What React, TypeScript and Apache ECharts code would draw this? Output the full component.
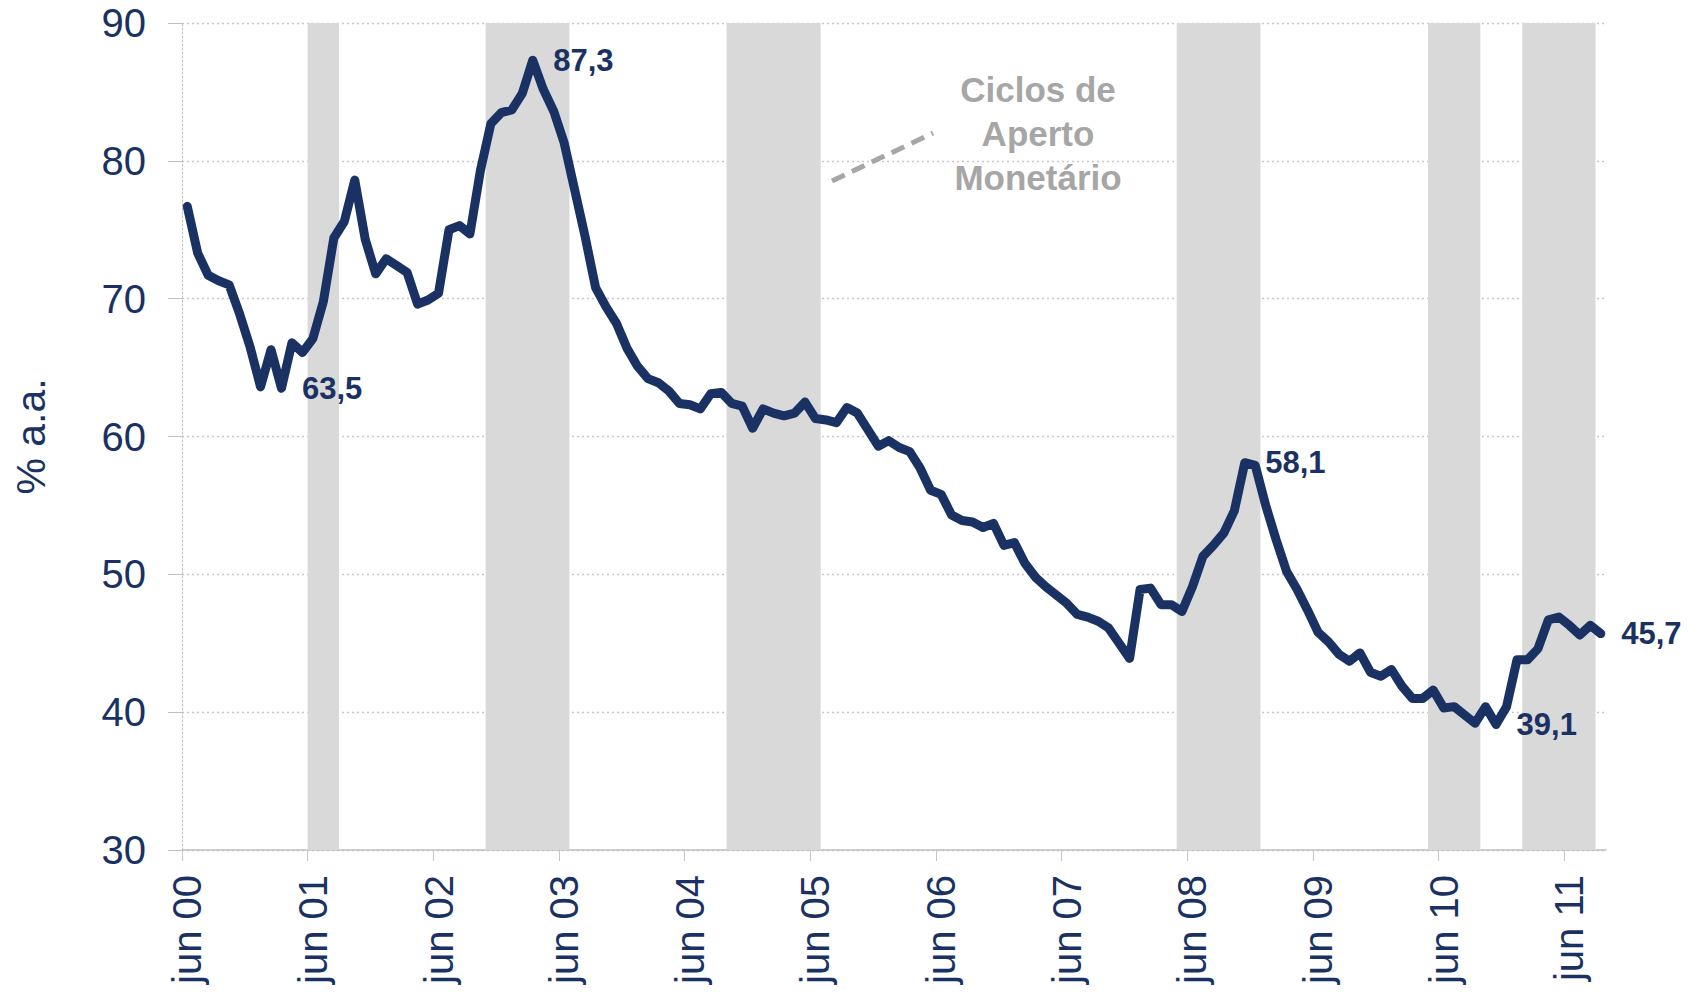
import React, { useEffect, useRef } from "react";
import * as echarts from "echarts";

const NAVY = "#1a3263";
const BAND = "#d9d9d9";
const NOTE_GRAY = "#a6a6a6";
const FONT = "'Liberation Sans', Arial, sans-serif";

// Portuguese month abbreviations, series starts in jun 2000
const MONTH_NAMES = ["jan", "fev", "mar", "abr", "mai", "jun", "jul", "ago", "set", "out", "nov", "dez"];
const START_MONTH = 5;
const START_YEAR = 2000;

// Monthly values (% a.a.), jun 00 .. set 11
const values: number[] = [
  76.7, 73.3, 71.7, 71.3, 71.0, 68.9, 66.5, 63.6, 66.3, 63.5, 66.8, 66.1,
  67.1, 69.8, 74.4, 75.6, 78.6, 74.3, 71.8, 72.9, 72.4, 71.9, 69.6, 69.9,
  70.4, 75.0, 75.3, 74.7, 79.3, 82.7, 83.5, 83.7, 84.9, 87.3, 85.2, 83.6,
  81.3, 77.9, 74.5, 70.8, 69.4, 68.2, 66.4, 65.1, 64.2, 63.9, 63.3, 62.4,
  62.3, 62.0, 63.1, 63.2, 62.4, 62.2, 60.6, 62.0, 61.7, 61.5, 61.7, 62.5,
  61.3, 61.2, 61.0, 62.1, 61.7, 60.5, 59.3, 59.7, 59.2, 58.9, 57.7, 56.1,
  55.8, 54.3, 53.9, 53.8, 53.4, 53.7, 52.1, 52.3, 50.8, 49.8, 49.1, 48.5,
  47.9, 47.1, 46.9, 46.6, 46.1, 45.0, 43.9, 48.9, 49.0, 47.8, 47.8, 47.3,
  49.1, 51.3, 52.1, 53.0, 54.6, 58.1, 57.9, 55.0, 52.5, 50.2, 48.9, 47.4,
  45.8, 45.1, 44.2, 43.7, 44.3, 42.9, 42.6, 43.1, 41.9, 41.0, 41.0, 41.6,
  40.3, 40.4, 39.8, 39.2, 40.4, 39.1, 40.4, 43.8, 43.8, 44.6, 46.7, 46.9,
  46.3, 45.6, 46.3, 45.7,
];

const months: string[] = values.map((_, i) => {
  const m = START_MONTH + i;
  const yy = (START_YEAR + Math.floor(m / 12)) % 100;
  return MONTH_NAMES[m % 12] + " " + String(yy).padStart(2, "0");
});

// Tightening cycles: first and last month (inclusive)
const tighteningCycles: [string, string][] = [
  ["jun 01", "ago 01"],
  ["nov 02", "jun 03"],
  ["out 04", "jun 05"],
  ["mai 08", "dez 08"],
  ["mai 10", "set 10"],
  ["fev 11", "ago 11"],
];

// Months whose value is annotated
const labelledMonths = ["mar 01", "mar 03", "nov 08", "nov 10", "set 11"];

const Y_MIN = 30;
const Y_MAX = 90;
const Y_STEP = 10;
const LABEL_EVERY = 12;

const fmt = (v: number) => v.toFixed(1).replace(".", ",");

export default function App() {
  const ref = useRef<HTMLDivElement>(null);

  useEffect(() => {
    if (!ref.current) return;
    const chart = echarts.init(ref.current, undefined, { renderer: "svg" });

    const bandData = tighteningCycles.map(([a, b]) => [months.indexOf(a), months.indexOf(b) + 1]);
    const tickPositions = months.map((_, i) => i).filter((i) => i % LABEL_EVERY === 0);

    const lineData = values.map((v, i) => {
      if (labelledMonths.includes(months[i])) {
        return {
          value: v,
          label: {
            show: true,
            position: "right",
            distance: 20,
            formatter: () => fmt(v),
            color: NAVY,
            fontSize: 31,
            fontWeight: "bold",
            fontFamily: FONT,
          },
        };
      }
      return v;
    });

    const option: any = {
      animation: false,
      textStyle: { fontFamily: FONT },
      grid: { left: 182, right: 94, top: 23, bottom: 145, containLabel: false },
      xAxis: [
        {
          type: "category",
          data: months,
          boundaryGap: true,
          axisLine: { show: true, lineStyle: { color: "#bfbfbf", width: 1.5 } },
          axisTick: { show: false },
          axisLabel: {
            interval: LABEL_EVERY - 1,
            rotate: 90,
            margin: 25,
            color: NAVY,
            fontSize: 40,
            fontFamily: FONT,
          },
          splitLine: { show: false },
        },
        {
          type: "value",
          min: 0,
          max: months.length,
          position: "bottom",
          axisLine: { show: false },
          axisLabel: { show: false },
          splitLine: { show: false },
          axisTick: {
            show: true,
            length: 11,
            customValues: tickPositions,
            lineStyle: { color: "#c8c8c8", width: 1 },
          },
        },
      ],
      yAxis: {
        type: "value",
        min: Y_MIN,
        max: Y_MAX,
        interval: Y_STEP,
        name: "% a.a.",
        nameLocation: "middle",
        nameGap: 131,
        nameRotate: 90,
        nameTextStyle: { color: NAVY, fontSize: 41, fontFamily: FONT },
        axisLine: { show: true, lineStyle: { color: "#c0c0c0", type: [2, 2], width: 1 } },
        axisTick: { show: true, length: 14, lineStyle: { color: "#c0c0c0", width: 1 } },
        axisLabel: { margin: 36, color: NAVY, fontSize: 40, fontFamily: FONT },
        splitLine: { show: true, lineStyle: { color: "#c8c8c8", type: [2, 3], width: 1.3 } },
      },
      series: [
        {
          type: "custom",
          xAxisIndex: 1,
          yAxisIndex: 0,
          z: 1,
          silent: true,
          data: bandData,
          encode: { x: [0, 1] },
          renderItem: (params: any, api: any) => {
            const p0 = api.coord([api.value(0), Y_MAX]);
            const p1 = api.coord([api.value(1), Y_MIN]);
            return {
              type: "rect",
              shape: { x: p0[0], y: p0[1], width: p1[0] - p0[0], height: p1[1] - p0[1] },
              style: { fill: BAND },
            };
          },
        },
        {
          type: "line",
          xAxisIndex: 0,
          yAxisIndex: 0,
          z: 3,
          data: lineData,
          symbol: "circle",
          symbolSize: 1,
          showSymbol: true,
          showAllSymbol: true,
          itemStyle: { color: NAVY },
          lineStyle: { color: NAVY, width: 9, cap: "round", join: "round" },
          emphasis: { disabled: true },
        },
      ],
      graphic: [
        {
          type: "line",
          z: 10,
          shape: { x1: 832, y1: 181, x2: 933, y2: 133 },
          style: { stroke: NOTE_GRAY, lineWidth: 5, lineDash: [14, 8] },
        },
        {
          type: "text",
          z: 10,
          x: 1038,
          y: 133,
          style: {
            text: "Ciclos de\nAperto\nMonetário",
            fill: NOTE_GRAY,
            fontSize: 35,
            fontWeight: "bold",
            fontFamily: FONT,
            align: "center",
            verticalAlign: "middle",
            lineHeight: 44,
          },
        },
      ],
    };

    chart.setOption(option);
    return () => chart.dispose();
  }, []);

  return (
    <div
      ref={ref}
      style={{ position: "fixed", left: 0, top: 0, width: 1700, height: 995, background: "#fff" }}
    />
  );
}
